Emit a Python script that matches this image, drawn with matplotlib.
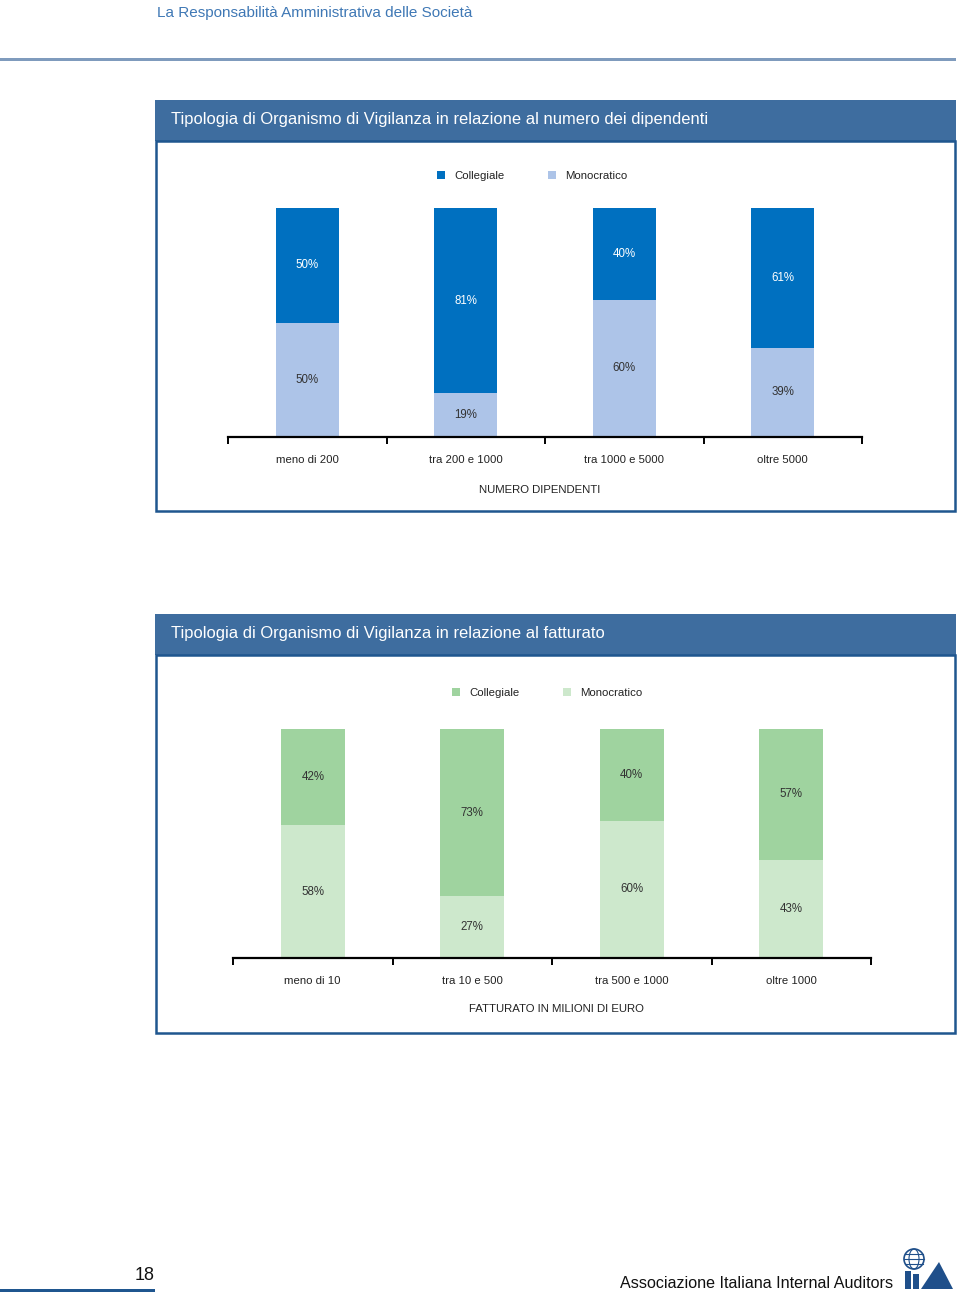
import numpy as np
import matplotlib
matplotlib.use('Agg')
from matplotlib import pyplot as plt
from matplotlib.patches import Rectangle, Ellipse, Polygon

plt.rcParams['font.family'] = ['Liberation Sans', 'DejaVu Sans']

# data
dip_categories = ['meno di 200', 'tra 200 e 1000', 'tra 1000 e 5000', 'oltre 5000']
dip_collegiale = [50, 81, 40, 61]
dip_monocratico = [50, 19, 60, 39]

fat_categories = ['meno di 10', 'tra 10 e 500', 'tra 500 e 1000', 'oltre 1000']
fat_collegiale = [42, 73, 40, 57]
fat_monocratico = [58, 27, 60, 43]

series_names = ['Collegiale', 'Monocratico']

W, H = 960, 1297
fig = plt.figure(figsize=(W / 100, H / 100), dpi=100)

HEAD_BLUE = '#3e6d9f'
BORDER_BLUE = '#1f568f'


def px_rect(x0, y0, x1, y1, **kw):
    # rectangle in pixel coords (y from top)
    r = Rectangle((x0 / W, 1 - y1 / H), (x1 - x0) / W, (y1 - y0) / H,
                  transform=fig.transFigure, **kw)
    fig.patches.append(r)
    return r


def px_text(x, y, s, **kw):
    return fig.text(x / W, 1 - y / H, s, **kw)


# page header
px_text(157, 13.5, 'La Responsabilità Amministrativa delle Società', fontsize=11,
        color='#3f78b5', va='center', ha='left')
px_rect(0, 58, 956, 61, facecolor='#7f9bbd', edgecolor='none')


def panel(top, bottom, title, axis_title, cats, coll, mono, colors, leg_x, leg_y,
          ax_x0, ax_x1, bar_top, axis_y, title_x, title_y, coll_txt):
    # header band and frame
    px_rect(155, top, 956, top + 41, facecolor=HEAD_BLUE, edgecolor='none')
    px_text(171, top + 19.5, title, fontsize=11.9, color='white', va='center')
    px_rect(156, top + 41, 955, bottom, facecolor='none', edgecolor=BORDER_BLUE,
            linewidth=1.8)

    # legend
    for i, name in enumerate(series_names):
        sx = leg_x + i * 111
        px_rect(sx, leg_y - 4, sx + 8, leg_y + 4, facecolor=colors[i], edgecolor='none')
        px_text(sx + 17, leg_y + 1, name, fontsize=8.2, color='#222222', va='center')

    # bar axes
    ax = fig.add_axes([ax_x0 / W, 1 - axis_y / H, (ax_x1 - ax_x0) / W,
                       (axis_y - bar_top) / H])
    x = np.arange(len(cats)) + 0.5
    coll = np.array(coll)
    mono = np.array(mono)
    ax.bar(x, mono, width=0.4, color=colors[1], edgecolor='none')
    ax.bar(x, coll, width=0.4, bottom=mono, color=colors[0], edgecolor='none')
    for xi, c, m in zip(x, coll, mono):
        ax.text(xi, m / 2, '%d%%' % m, ha='center', va='center', fontsize=8.3,
                color='#333333')
        ax.text(xi, m + c / 2, '%d%%' % c, ha='center', va='center', fontsize=8.3,
                color=coll_txt)
    ax.set_xlim(0, len(cats))
    ax.set_ylim(0, 100)
    for s in ['top', 'right', 'left']:
        ax.spines[s].set_visible(False)
    ax.spines['bottom'].set_linewidth(1.6)
    ax.set_yticks([])
    ax.set_xticks(x)
    ax.set_xticklabels(cats, fontsize=8.2, color='#222222')
    ax.tick_params(axis='x', which='major', length=0, pad=13)
    ax.set_xticks(np.arange(len(cats) + 1), minor=True)
    ax.tick_params(axis='x', which='minor', length=5, width=1.4, direction='out')
    px_text(title_x, title_y, axis_title, fontsize=8.2,
            color='#222222', ha='center', va='center')
    return ax


panel(100, 511, 'Tipologia di Organismo di Vigilanza in relazione al numero dei dipendenti',
      'NUMERO DIPENDENTI', dip_categories, dip_collegiale, dip_monocratico,
      ['#0070c0', '#adc4e8'], 437, 175, 228, 862, 208, 437, 540, 490, 'white')

panel(614, 1033, 'Tipologia di Organismo di Vigilanza in relazione al fatturato',
      'FATTURATO IN MILIONI DI EURO', fat_categories, fat_collegiale, fat_monocratico,
      ['#9fd39f', '#cde8cc'], 452, 692, 233, 871, 729, 958, 556, 1009, '#333333')

# footer
px_text(155, 1275, '18', fontsize=13, color='#111111', ha='right', va='center')
px_rect(0, 1289, 155, 1292, facecolor='#1f568f', edgecolor='none')
px_text(893, 1284, 'Associazione Italiana Internal Auditors', fontsize=11.6,
        color='#111111', ha='right', va='center')

# small IIA logo
LOGO = '#1f4f8a'
cx, cy, r = 914, 1259, 10
fig.patches.append(Ellipse((cx / W, 1 - cy / H), 2 * r / W, 2 * r / H,
                           transform=fig.transFigure, facecolor='white',
                           edgecolor=LOGO, linewidth=1.2))
fig.patches.append(Ellipse((cx / W, 1 - cy / H), r / W, 2 * r / H,
                           transform=fig.transFigure, facecolor='none',
                           edgecolor=LOGO, linewidth=0.8))
for dy in (-5, 0, 5):
    half = np.sqrt(r ** 2 - dy ** 2)
    fig.add_artist(plt.Line2D([(cx - half) / W, (cx + half) / W],
                              [1 - (cy + dy) / H, 1 - (cy + dy) / H],
                              transform=fig.transFigure, color=LOGO, linewidth=0.8))
px_rect(905, 1271, 911, 1289, facecolor=LOGO, edgecolor='none')
px_rect(913, 1274, 919, 1289, facecolor=LOGO, edgecolor='none')
tri = Polygon([(921 / W, 1 - 1289 / H), (939 / W, 1 - 1262 / H),
               (953 / W, 1 - 1289 / H)], closed=True, transform=fig.transFigure,
              facecolor=LOGO, edgecolor='none')
fig.patches.append(tri)

fig.savefig('out.png', dpi=100)
